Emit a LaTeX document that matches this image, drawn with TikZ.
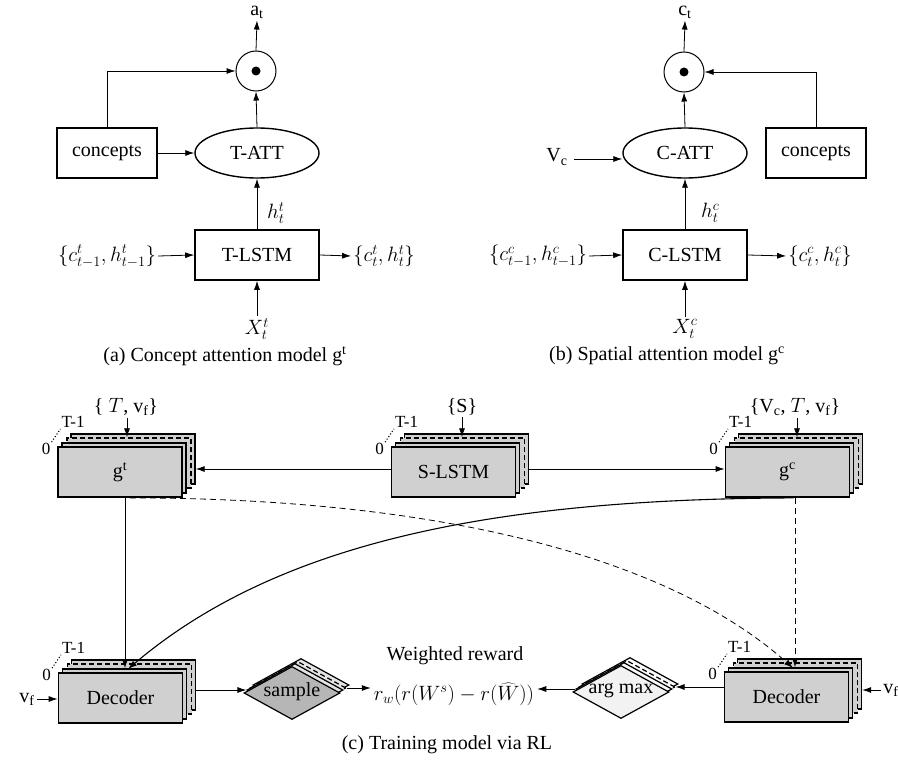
\documentclass[tikz,border=0pt]{standalone}
\usepackage{fontspec}
\setmainfont{Liberation Serif}
\usetikzlibrary{arrows.meta,shapes.geometric,calc}
\definecolor{boxgray}{RGB}{208,208,208}
\definecolor{sampgray}{RGB}{182,182,182}
\definecolor{samplayer}{RGB}{228,228,228}
\definecolor{argfill}{RGB}{242,242,242}
\definecolor{arglayer}{RGB}{250,250,250}
\tikzset{
  arr/.style={-{Latex[length=9pt,width=6pt]}, line width=0.8pt},
  txt/.style={inner sep=2pt, font=\fontsize{20}{24}\selectfont},
  mth/.style={inner sep=2pt, font=\fontsize{20}{24}\selectfont},
  small/.style={inner sep=1pt, font=\fontsize{17}{20}\selectfont},
  blk/.style={draw, line width=1.6pt, minimum width=124pt, minimum height=50pt, inner sep=0pt, font=\fontsize{20}{24}\selectfont},
  cbox/.style={blk, minimum width=100pt},
  ell/.style={draw, ellipse, line width=1.4pt, minimum width=124pt, minimum height=50pt, inner sep=0pt, font=\fontsize{20}{24}\selectfont},
  odot/.style={draw, circle, line width=1pt, minimum size=40pt, inner sep=0pt},
  lay/.style={draw, fill=boxgray, line width=1.4pt, minimum width=124pt, minimum height=50pt, inner sep=0pt, font=\fontsize{20}{24}\selectfont},
  dashlay/.style={dash pattern=on 5pt off 3pt},
  frontlay/.style={line width=1.8pt},
  dia/.style={draw, diamond, line width=1.2pt, minimum width=96pt, minimum height=53pt, inner sep=0pt},
}
\newcommand\mkstack[4]{%
  \node[lay] (#1B) at ({#2+13},{#3-13}) {};
  \node[lay,dashlay] (#1D) at ({#2+9},{#3-9}) {};
  \node[lay] (#1M) at ({#2+4},{#3-4}) {};
  \node[lay,frontlay] (#1) at (#2,#3) {#4};
  \node[small] (#1z) at ($(#1.north west)+(-11,3)$) {0};
  \node[small] (#1T) at ($(#1.north west)+(16,-24)$) {T-1};
  \draw[dotted, line width=1.1pt] (#1z.north east) -- (#1T.south west);
}
\newcommand\mkdiam[6]{%
  \node[dia,fill=#5] (#1B) at ({#2+9},{#3-8}) {};
  \node[dia,fill=#5,dashlay] (#1D) at ({#2+6},{#3-5}) {};
  \node[dia,fill=#5] (#1M) at ({#2+3},{#3-3}) {};
  \node[dia,fill=#4] (#1) at (#2,#3) {};
  \node[txt] (#1t) at (#2,{#3-1}) {#6};
}
\begin{document}
\begin{tikzpicture}[x=1pt,y=-1pt]
\useasboundingbox (0,0) rectangle (898,768);
% ---------------- (a)
\node[cbox] (conA) at (107,153) {concepts};
\node[ell] (ellA) at (257,153) {T-ATT};
\node[odot] (dotA) at (256,71) {};
\fill (dotA.center) circle (4.5pt);
\node[txt] (atA) at (257,12) {a\textsubscript{t}};
\node[blk] (lstmA) at (257,255) {T-LSTM};
\node[mth, anchor=west] (hA) at (265,213) {$h^t_t$};
\node[mth] (inA) at (107,256) {$\{c^t_{t-1}, h^t_{t-1}\}$};
\node[mth] (outA) at (384,256) {$\{c^t_t, h^t_t\}$};
\node[mth] (xA) at (257,329) {$X^t_t$};
\node[txt] (capA) at (225,356) {(a) Concept attention model g\textsuperscript{t}};
\draw[arr] (dotA.north) -- (atA.south);
\draw[arr] (conA.north) |- (dotA.west);
\draw[arr] (conA.east) -- (ellA.west);
\draw[arr] (ellA.north) -- (dotA.south);
\draw[arr] (lstmA.north) -- (ellA.south);
\draw[arr] (inA.east) -- (lstmA.west);
\draw[arr] (lstmA.east) -- (outA.west);
\draw[arr] (xA.north) -- (lstmA.south);
% ---------------- (b)
\node[ell] (ellB) at (685,153) {C-ATT};
\node[cbox] (conB) at (816,153) {concepts};
\node[odot] (dotB) at (684,72) {};
\fill (dotB.center) circle (4.5pt);
\node[txt] (ctB) at (685,12) {c\textsubscript{t}};
\node[txt] (VcB) at (557,157) {V\textsubscript{c}};
\node[blk] (lstmB) at (685,255) {C-LSTM};
\node[mth, anchor=west] (hB) at (699,213) {$h^c_t$};
\node[mth] (inB) at (538,256) {$\{c^c_{t-1}, h^c_{t-1}\}$};
\node[mth] (outB) at (820,256) {$\{c^c_t, h^c_t\}$};
\node[mth] (xB) at (685,329) {$X^c_t$};
\node[txt] (capB) at (667,356) {(b) Spatial attention model g\textsuperscript{c}};
\draw[arr] (dotB.north) -- (ctB.south);
\draw[arr] (conB.north) |- (dotB.east);
\draw[arr] ([yshift=-2pt]VcB.east -| ellB.west) ++(-48,0) -- ([yshift=-2pt]VcB.east -| ellB.west);
\draw[arr] (ellB.north) -- (dotB.south);
\draw[arr] (lstmB.north) -- (ellB.south);
\draw[arr] (inB.east) -- (lstmB.west);
\draw[arr] (lstmB.east) -- (outB.west);
\draw[arr] (xB.north) -- (lstmB.south);
% ---------------- (c)
\mkstack{gt}{120}{472}{g\textsuperscript{t}}
\mkstack{sl}{453.5}{472}{S-LSTM}
\mkstack{gc}{787.5}{472}{g\textsuperscript{c}}
\mkstack{dl}{120.5}{698}{Decoder}
\mkstack{dr}{786.5}{697}{Decoder}
\node[txt] (ingt) at (126,407) {\{ $T$, v\textsubscript{f}\}};
\node[txt] (insl) at (462,407) {\{S\}};
\node[txt] (ingc) at (795,407) {\{V\textsubscript{c}, $T$, v\textsubscript{f}\}};
\draw[arr] ([xshift=1pt]ingt.south) -- ([xshift=1pt]ingt.south |- gtD.north);
\draw[arr] (insl.south) -- (insl.south |- slD.north);
\draw[arr] ([xshift=2pt]ingc.south) -- ([xshift=2pt]ingc.south |- gcD.north);
\draw[arr] ([yshift=3pt]sl.west) -- ([yshift=3pt]sl.west -| gtB.east);
\draw[arr] ([yshift=3pt]gc.west -| slB.east) -- ([yshift=3pt]gc.west);
\coordinate (dlin) at (128,669);
\coordinate (drin) at (793,668);
\draw[arr] ([xshift=5pt]gt.south) -- ([xshift=5pt]gt.south |- dlM.north);
\draw[arr, line width=1.1pt] ([xshift=6pt]gc.south) .. controls (500,499) and (280,540) .. (dlin);
\draw[arr, dash pattern=on 6pt off 4pt] ([xshift=10pt]gt.south) .. controls (420,498) and (660,550) .. (drin);
\draw[arr, dash pattern=on 6pt off 4pt] ([xshift=7.5pt]gc.south) -- ([xshift=7.5pt]gc.south |- drM.north);
\mkdiam{sp}{292}{693}{sampgray}{samplayer}{sample}
\mkdiam{am}{621}{692}{argfill}{arglayer}{arg max}
\node[mth, inner sep=1pt] (rw) at (454,694) {$r_w(r(W^s) - r(\widehat{W}))$};
\node[txt, inner sep=1pt] (wr) at (455,656) {Weighted reward};
\node[txt] (vfl) at (27,699) {v\textsubscript{f}};
\node[txt] (vfr) at (891,690) {v\textsubscript{f}};
\draw[arr] (vfl.east) -- (vfl.east -| dl.west);
\draw[arr] (vfr.west) -- (vfr.west -| drB.east);
\draw[arr] (spM.west -| dlB.east) -- (spM.west);
\draw[arr] (spD.east) -- ([xshift=-2pt]spD.east -| rw.west);
\draw[arr] (amD.east -| dr.west) -- (amD.east);
\draw[arr] (amM.west) -- ([xshift=2pt]amM.west -| rw.east);
\node[txt] (capC) at (447,745) {(c) Training model via RL};
\end{tikzpicture}
\end{document}
